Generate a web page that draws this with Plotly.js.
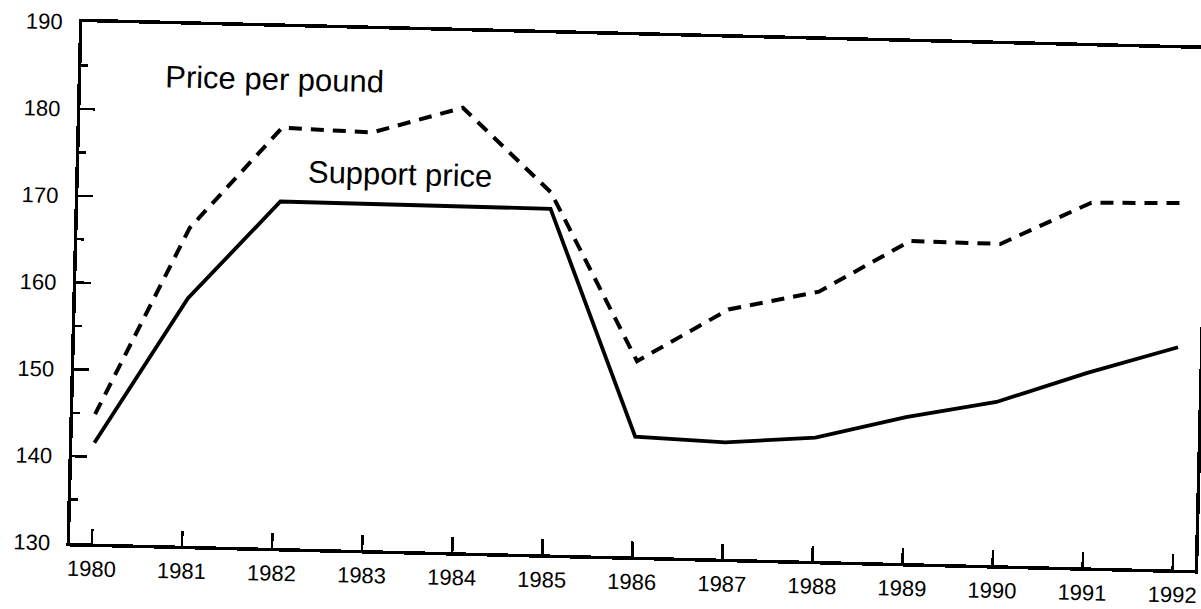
<!DOCTYPE html>
<html>
<head>
<meta charset="utf-8">
<script src="https://cdn.plot.ly/plotly-3.0.1.min.js"></script>
<style>
  html, body { margin: 0; padding: 0; background: #ffffff; overflow: hidden; }
  #wrap { width: 1201px; height: 609px; transform-origin: 70px 543px; transform: rotate(1.375deg); }
  #chart { width: 1201px; height: 609px; }
</style>
</head>
<body>
<div id="wrap"><div id="chart"></div></div>
<script>
// Data
const years = [1980, 1981, 1982, 1983, 1984, 1985, 1986, 1987, 1988, 1989, 1990, 1991, 1992];
const yearLabels = ["1980", "1981", "1982", "1983", "1984", "1985", "1986", "1987", "1988", "1989", "1990", "1991", "1992"];
const pricePerPound = [144.9, 166.6, 178.4, 178.1, 181.2, 171.7, 152.5, 158.7, 161.0, 167.1, 167.0, 172.0, 172.2];
const supportPrice = [141.6, 158.5, 169.9, 169.9, 169.8, 169.8, 143.8, 143.4, 144.2, 146.8, 148.8, 152.4, 155.6];
const yTicks = [130, 140, 150, 160, 170, 180, 190];
const seriesNames = ["Price per pound", "Support price"];

const FONT = '"Liberation Sans", Arial, Helvetica, sans-serif';

const traces = [
  {
    x: years, y: pricePerPound, name: seriesNames[0], type: 'scatter', mode: 'lines',
    line: { color: '#000000', width: 4, dash: '13px,9px' }
  },
  {
    x: years, y: supportPrice, name: seriesNames[1], type: 'scatter', mode: 'lines',
    line: { color: '#000000', width: 3.8 }
  }
];

const layout = {
  width: 1201, height: 609,
  margin: { l: 70, r: 6, t: 22, b: 66 },
  paper_bgcolor: '#ffffff', plot_bgcolor: '#ffffff',
  showlegend: false,
  font: { family: FONT, color: '#000000', size: 22 },
  xaxis: {
    range: [1979.756, 1992.244],
    tickmode: 'array', tickvals: years, ticktext: yearLabels,
    ticks: 'inside', ticklen: 15, tickwidth: 2.5, tickcolor: '#000000',
    showline: true, linecolor: '#000000', linewidth: 3.5, mirror: true,
    showgrid: false, zeroline: false,
    ticklabelstandoff: 3,
    tickfont: { family: FONT, size: 22, color: '#000000' }
  },
  yaxis: {
    range: [130, 190],
    tickmode: 'array', tickvals: yTicks,
    ticks: 'inside', ticklen: 15, tickwidth: 2.5, tickcolor: '#000000',
    minor: { ticks: 'inside', ticklen: 7, tickwidth: 2.5, tickcolor: '#000000', dtick: 5, tick0: 135, showgrid: false },
    showline: true, linecolor: '#000000', linewidth: 3.5, mirror: true,
    showgrid: false, zeroline: false,
    ticklabelstandoff: 12,
    tickfont: { family: FONT, size: 22, color: '#000000' }
  },
  annotations: [
    {
      text: seriesNames[0], x: 1980.666, y: 183.9, xref: 'x', yref: 'y',
      xanchor: 'left', yanchor: 'middle', showarrow: false,
      font: { family: FONT, size: 31, color: '#000000' }
    },
    {
      text: seriesNames[1], x: 1982.28, y: 173.4, xref: 'x', yref: 'y',
      xanchor: 'left', yanchor: 'middle', showarrow: false,
      font: { family: FONT, size: 31, color: '#000000' }
    }
  ]
};

Plotly.newPlot('chart', traces, layout, { displayModeBar: false, staticPlot: true });
</script>
</body>
</html>
